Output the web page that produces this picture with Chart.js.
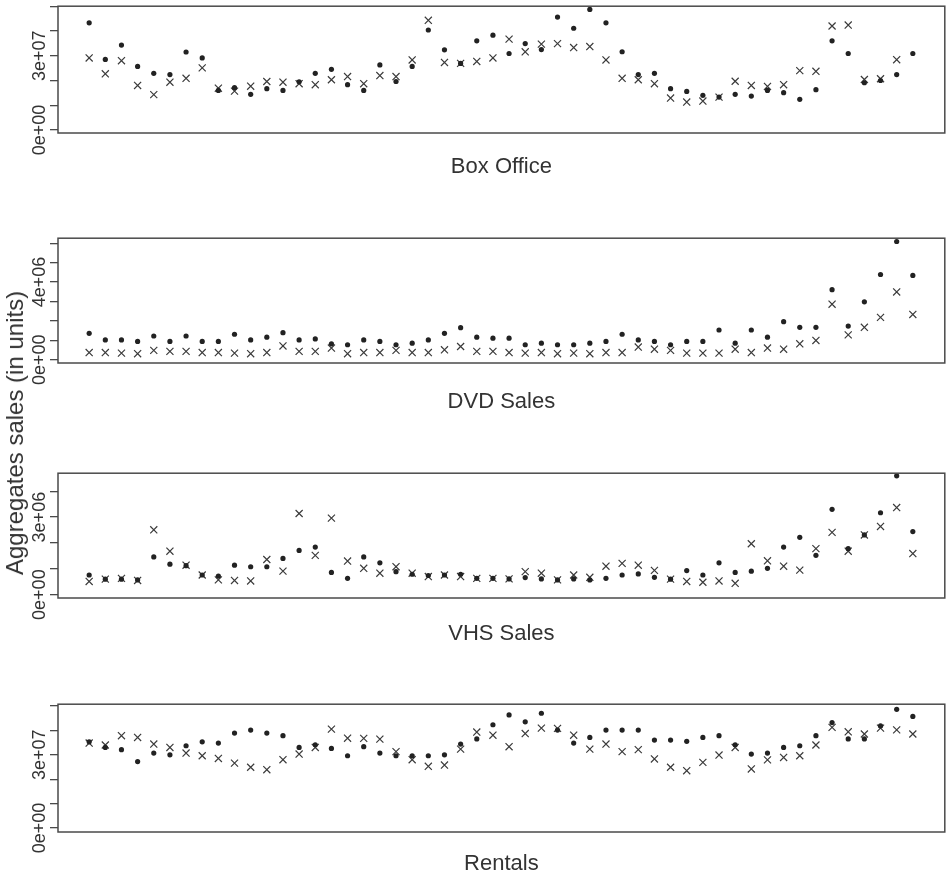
<!DOCTYPE html>
<html>
<head>
<meta charset="utf-8">
<title>Aggregates sales</title>
<script src="https://cdn.jsdelivr.net/npm/chart.js@4.4.0/dist/chart.umd.min.js"></script>
<style>
  body { margin: 0; background: #fff; }
  #wrap { position: relative; width: 951px; height: 882px; }
  canvas { position: absolute; left: 0; }
  #ytitle {
    position: absolute; left: 15px; top: 433px;
    transform: translate(-50%, -50%) rotate(-90deg);
    font: 24px "Liberation Sans", Arial, sans-serif; color: #333; white-space: nowrap;
  }
</style>
</head>
<body>
<div id="wrap">
  <canvas id="boxOffice"></canvas>
  <canvas id="dvd"></canvas>
  <canvas id="vhs"></canvas>
  <canvas id="rentals"></canvas>
  <div id="ytitle">Aggregates sales (in units)</div>
</div>

<script>
// week index 1..52 on the x axis
const weeks = Array.from({length: 52}, (_, i) => i + 1);

// all series in millions of units
const boxOfficeDots = [43.3, 28.5, 34.3, 25.7, 22.9, 22.4, 31.5, 29.1, 16.0, 17.1, 14.4, 16.7, 16.0, 19.5, 22.9, 24.5, 18.3, 16.0, 26.3, 19.6, 25.7, 40.4, 32.4, 26.9, 36.0, 38.3,
                       30.9, 34.9, 32.5, 45.6, 41.1, 48.7, 43.3, 31.6, 22.4, 22.9, 16.7, 15.6, 14.0, 13.3, 14.4, 13.7, 16.0, 15.1, 12.4, 16.3, 36.0, 30.9, 19.1, 20.0, 22.4, 30.9];
const boxOfficeCrosses = [29.1, 22.7, 28.0, 18.0, 14.3, 19.3, 20.9, 25.1, 16.9, 15.7, 17.7, 19.6, 19.3, 18.7, 18.3, 20.3, 21.6, 18.7, 22.0, 21.6, 28.3, 44.3, 27.3, 26.9, 27.7, 29.1,
                          36.7, 31.6, 34.7, 34.9, 33.3, 33.7, 28.3, 20.9, 20.3, 18.7, 12.9, 11.3, 11.7, 13.3, 19.7, 18.0, 17.6, 18.3, 24.0, 23.7, 42.0, 42.4, 20.4, 20.7, 28.4, null];

const dvdDots = [1.36, 1.02, 1.02, 0.94, 1.22, 0.94, 1.22, 0.94, 0.94, 1.31, 1.02, 1.16, 1.39, 1.02, 1.07, 0.82, 0.77, 1.02, 0.94, 0.77, 0.85, 1.02, 1.36, 1.65, 1.16, 1.11,
                 1.11, 0.77, 0.85, 0.77, 0.77, 0.85, 0.94, 1.31, 1.02, 0.94, 0.77, 0.94, 0.94, 1.53, 0.85, 1.53, 1.16, 1.96, 1.67, 1.67, 3.61, 1.73, 2.98, 4.39, 6.09, 4.34];
const dvdCrosses = [0.37, 0.37, 0.34, 0.31, 0.48, 0.43, 0.43, 0.37, 0.37, 0.34, 0.31, 0.37, 0.71, 0.43, 0.43, 0.60, 0.31, 0.37, 0.37, 0.48, 0.37, 0.37, 0.51, 0.68, 0.43, 0.43,
                    0.37, 0.34, 0.37, 0.31, 0.34, 0.31, 0.37, 0.37, 0.65, 0.54, 0.48, 0.34, 0.34, 0.34, 0.54, 0.37, 0.60, 0.54, 0.82, 0.99, 2.86, 1.28, 1.67, 2.18, 3.49, 2.33];

const vhsDots = [0.76, 0.60, 0.60, 0.57, 1.46, 1.18, 1.12, 0.76, 0.72, 1.14, 1.08, 1.08, 1.40, 1.71, 1.84, 0.86, 0.63, 1.46, 1.23, 0.89, 0.79, 0.74, 0.76, 0.79, 0.63, 0.63,
                 0.61, 0.66, 0.61, 0.57, 0.61, 0.57, 0.63, 0.76, 0.80, 0.67, 0.60, 0.93, 0.76, 1.23, 0.86, 0.91, 1.02, 1.84, 2.22, 1.52, 3.30, 1.78, 2.31, 3.17, 4.60, 2.44];
const vhsCrosses = [0.51, 0.60, 0.63, 0.55, 2.51, 1.68, 1.14, 0.76, 0.57, 0.55, 0.53, 1.36, 0.91, 3.14, 1.52, 2.96, 1.30, 1.02, 0.83, 1.08, 0.83, 0.70, 0.76, 0.70, 0.63, 0.63,
                    0.61, 0.89, 0.83, 0.57, 0.76, 0.67, 1.10, 1.21, 1.14, 0.94, 0.60, 0.51, 0.48, 0.53, 0.44, 1.97, 1.31, 1.10, 0.95, 1.78, 2.41, 1.68, 2.31, 2.64, 3.37, 1.59];

const rentalDots = [35.3, 33.0, 32.1, 27.2, 30.7, 30.0, 33.7, 35.3, 34.8, 38.9, 40.1, 38.9, 37.8, 33.0, 34.1, 32.6, 29.6, 33.3, 30.7, 29.6, 29.6, 29.6, 30.0, 34.4, 36.5, 42.3,
                    46.3, 43.5, 47.0, 40.1, 34.8, 37.1, 40.1, 40.1, 40.1, 36.0, 36.0, 35.5, 37.1, 37.8, 34.1, 30.3, 30.7, 33.0, 33.7, 37.8, 43.2, 36.5, 36.5, 41.8, 48.6, 45.7];
const rentalCrosses = [34.8, 34.0, 37.8, 37.1, 34.4, 33.0, 30.7, 29.6, 28.5, 26.6, 24.9, 23.9, 28.0, 30.3, 33.0, 40.5, 36.8, 36.7, 36.4, 31.3, 28.0, 25.3, 25.8, 32.3, 39.3, 38.0,
                       33.3, 38.7, 40.9, 40.8, 38.0, 32.3, 34.4, 31.3, 32.1, 28.3, 24.9, 23.5, 26.9, 29.9, 33.0, 24.2, 27.9, 28.9, 29.6, 34.0, 41.2, 39.4, 38.5, 40.9, 40.2, 38.5];

// y axis ticks (millions) and the ones that carry a label
const boxOfficeTicks = [0, 10, 20, 30, 40, 50];
const boxOfficeLabels = [0, 30];
const dvdTicks = [0, 1, 2, 3, 4, 5, 6];
const dvdLabels = [0, 4];
const vhsTicks = [0, 1, 2, 3, 4];
const vhsLabels = [0, 3];
const rentalTicks = [0, 10, 20, 30, 40, 50];
const rentalLabels = [0, 30];

const FONT = '"Liberation Sans", Arial, sans-serif';

// R style labels: 3e+07
function sci(v) {
    return v.toExponential(0).replace(/e([+-])(\d)$/, 'e$10$2');
}

function points(vals) {
    return vals.map((v, i) => ({x: weeks[i], y: v === null ? null : v * 1e6}));
}

// draws the frame round the plot region
const boxPlugin = {
    id: 'box',
    afterDatasetsDraw(chart) {
        const {ctx, chartArea: a} = chart;
        ctx.save();
        ctx.strokeStyle = '#4a4a4a';
        ctx.lineWidth = 1.5;
        ctx.strokeRect(a.left, a.top, a.right - a.left, a.bottom - a.top);
        ctx.restore();
    }
};

function makePanel(p) {
    const lh = 26.4;
    const canvasTop = p.boxTop - 5;
    const h = Math.round(p.titleY + 14 - canvasTop);
    const padBottom = h - (p.titleY + lh / 2 - canvasTop);
    const padTop = p.titleY - lh / 2 - p.boxBottom;

    const canvas = document.getElementById(p.id);
    canvas.width = 951;
    canvas.height = h;
    canvas.style.top = canvasTop + 'px';

    new Chart(canvas, {
        type: 'scatter',
        data: {
            datasets: [
                {data: points(p.dots), pointStyle: 'circle', pointRadius: 2.6, backgroundColor: '#222', borderWidth: 0},
                {data: points(p.crosses), pointStyle: 'crossRot', pointRadius: 5, borderColor: '#3c3c3c', borderWidth: 1.2}
            ]
        },
        options: {
            responsive: false,
            animation: false,
            events: [],
            layout: {padding: {top: 5, right: 3, left: 0, bottom: 0}},
            plugins: {legend: {display: false}, tooltip: {enabled: false}},
            scales: {
                x: {
                    type: 'linear', min: -0.93, max: 53.98,
                    ticks: {display: false},
                    grid: {display: false, drawTicks: false},
                    border: {display: false},
                    title: {
                        display: true, text: p.title, color: '#333',
                        font: {family: FONT, size: 22, lineHeight: 1.2},
                        padding: {top: padTop, bottom: padBottom}
                    }
                },
                y: {
                    min: p.yMin * 1e6, max: p.yMax * 1e6,
                    afterBuildTicks: ax => { ax.ticks = p.ticks.map(v => ({value: v * 1e6})); },
                    afterFit: ax => { ax.width = 58; },
                    grid: {drawOnChartArea: false, drawTicks: true, tickLength: 8, color: '#4a4a4a', lineWidth: 1.3},
                    border: {display: false},
                    ticks: {
                        autoSkip: false, minRotation: 90, maxRotation: 90,
                        crossAlign: 'center', padding: -15,
                        font: {family: FONT, size: 18}, color: '#333',
                        callback: v => p.labels.some(l => Math.abs(l * 1e6 - v) < 1) ? sci(v) : ''
                    }
                }
            }
        },
        plugins: [boxPlugin]
    });
}

makePanel({id: 'boxOffice', title: 'Box Office', dots: boxOfficeDots, crosses: boxOfficeCrosses,
           ticks: boxOfficeTicks, labels: boxOfficeLabels, yMin: -1.2, yMax: 50.0, boxTop: 5, boxBottom: 133, titleY: 167});
makePanel({id: 'dvd', title: 'DVD Sales', dots: dvdDots, crosses: dvdCrosses,
           ticks: dvdTicks, labels: dvdLabels, yMin: -0.17, yMax: 6.26, boxTop: 237, boxBottom: 363, titleY: 402});
makePanel({id: 'vhs', title: 'VHS Sales', dots: vhsDots, crosses: vhsCrosses,
           ticks: vhsTicks, labels: vhsLabels, yMin: -0.13, yMax: 4.70, boxTop: 472, boxBottom: 598, titleY: 634});
makePanel({id: 'rentals', title: 'Rentals', dots: rentalDots, crosses: rentalCrosses,
           ticks: rentalTicks, labels: rentalLabels, yMin: -1.6, yMax: 50.7, boxTop: 703, boxBottom: 832, titleY: 864});
</script>
</body>
</html>
